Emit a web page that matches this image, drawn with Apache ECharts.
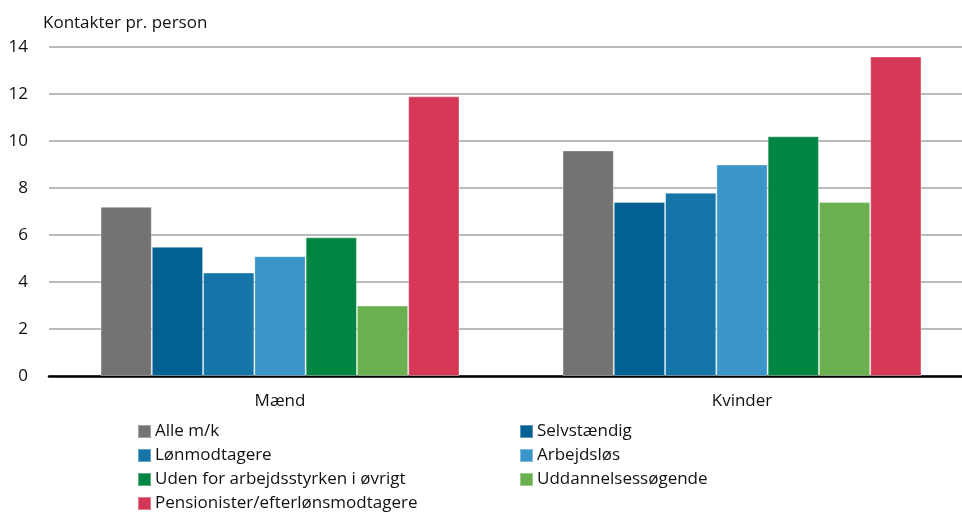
<!DOCTYPE html>
<html>
<head>
<meta charset="utf-8">
<script src="https://cdn.jsdelivr.net/npm/echarts@6/dist/echarts.min.js"></script>
<style>
html,body{margin:0;padding:0;background:#fff;}
#c{width:962px;height:515px;}
</style>
</head>
<body>
<div id="c"></div>
<script>
const categories = ['Mænd', 'Kvinder'];
const seriesNames = ['Alle m/k', 'Selvstændig', 'Lønmodtagere', 'Arbejdsløs', 'Uden for arbejdsstyrken i øvrigt', 'Uddannelsessøgende', 'Pensionister/efterlønsmodtagere'];
const alleMK = [7.2, 9.6];
const selvstaendig = [5.5, 7.4];
const loenmodtagere = [4.4, 7.8];
const arbejdsloes = [5.1, 9.0];
const udenFor = [5.9, 10.2];
const uddannelses = [3.0, 7.4];
const pensionister = [11.9, 13.6];
const yTicks = [0, 2, 4, 6, 8, 10, 12, 14];
const colors = ['#737373', '#036092', '#1574a8', '#3a95c9', '#008542', '#6ab04f', '#d63756'];

const values = [alleMK, selvstaendig, loenmodtagere, arbejdsloes, udenFor, uddannelses, pensionister];
const FONT = 'Open Sans';
const legendCommon = {
  orient: 'vertical', top: 423, height: 120, itemGap: 7, padding: 0,
  itemWidth: 13, itemHeight: 13, icon: 'rect',
  textStyle: {fontFamily: FONT, fontSize: 17, color: '#111', padding: [0, 0, 0, -1]}
};
const chart = echarts.init(document.getElementById('c'));
chart.setOption({
  animation: false,
  textStyle: {fontFamily: FONT},
  title: {
    text: 'Kontakter pr. person',
    left: 38, top: 10,
    textStyle: {fontFamily: FONT, fontSize: 17, fontWeight: 'normal', color: '#111'}
  },
  legend: [
    Object.assign({}, legendCommon, {
      data: [seriesNames[0], seriesNames[2], seriesNames[4], seriesNames[6]], left: 137
    }),
    Object.assign({}, legendCommon, {
      data: [seriesNames[1], seriesNames[3], seriesNames[5]], left: 519
    })
  ],
  grid: {left: 49, width: 924, top: 47, bottom: 139, containLabel: false, outerBoundsMode: 'none'},
  xAxis: {
    type: 'category', data: categories,
    axisLine: {lineStyle: {color: '#000', width: 2.5}},
    axisTick: {show: false},
    axisLabel: {fontFamily: FONT, fontSize: 17, color: '#111', margin: 17}
  },
  yAxis: {
    type: 'value', min: yTicks[0], max: yTicks[yTicks.length - 1], interval: 2,
    axisLine: {show: false}, axisTick: {show: false},
    axisLabel: {fontFamily: FONT, fontSize: 17, color: '#111', margin: 21},
    splitLine: {lineStyle: {color: '#a3a3a3', width: 1.5}}
  },
  series: seriesNames.map((n, i) => ({
    name: n, type: 'bar', data: values[i],
    barGap: '0%', barCategoryGap: '22.3%',
    itemStyle: {color: colors[i], borderColor: 'rgba(255,255,255,0.35)', borderWidth: 1}
  }))
});
</script>
</body>
</html>
